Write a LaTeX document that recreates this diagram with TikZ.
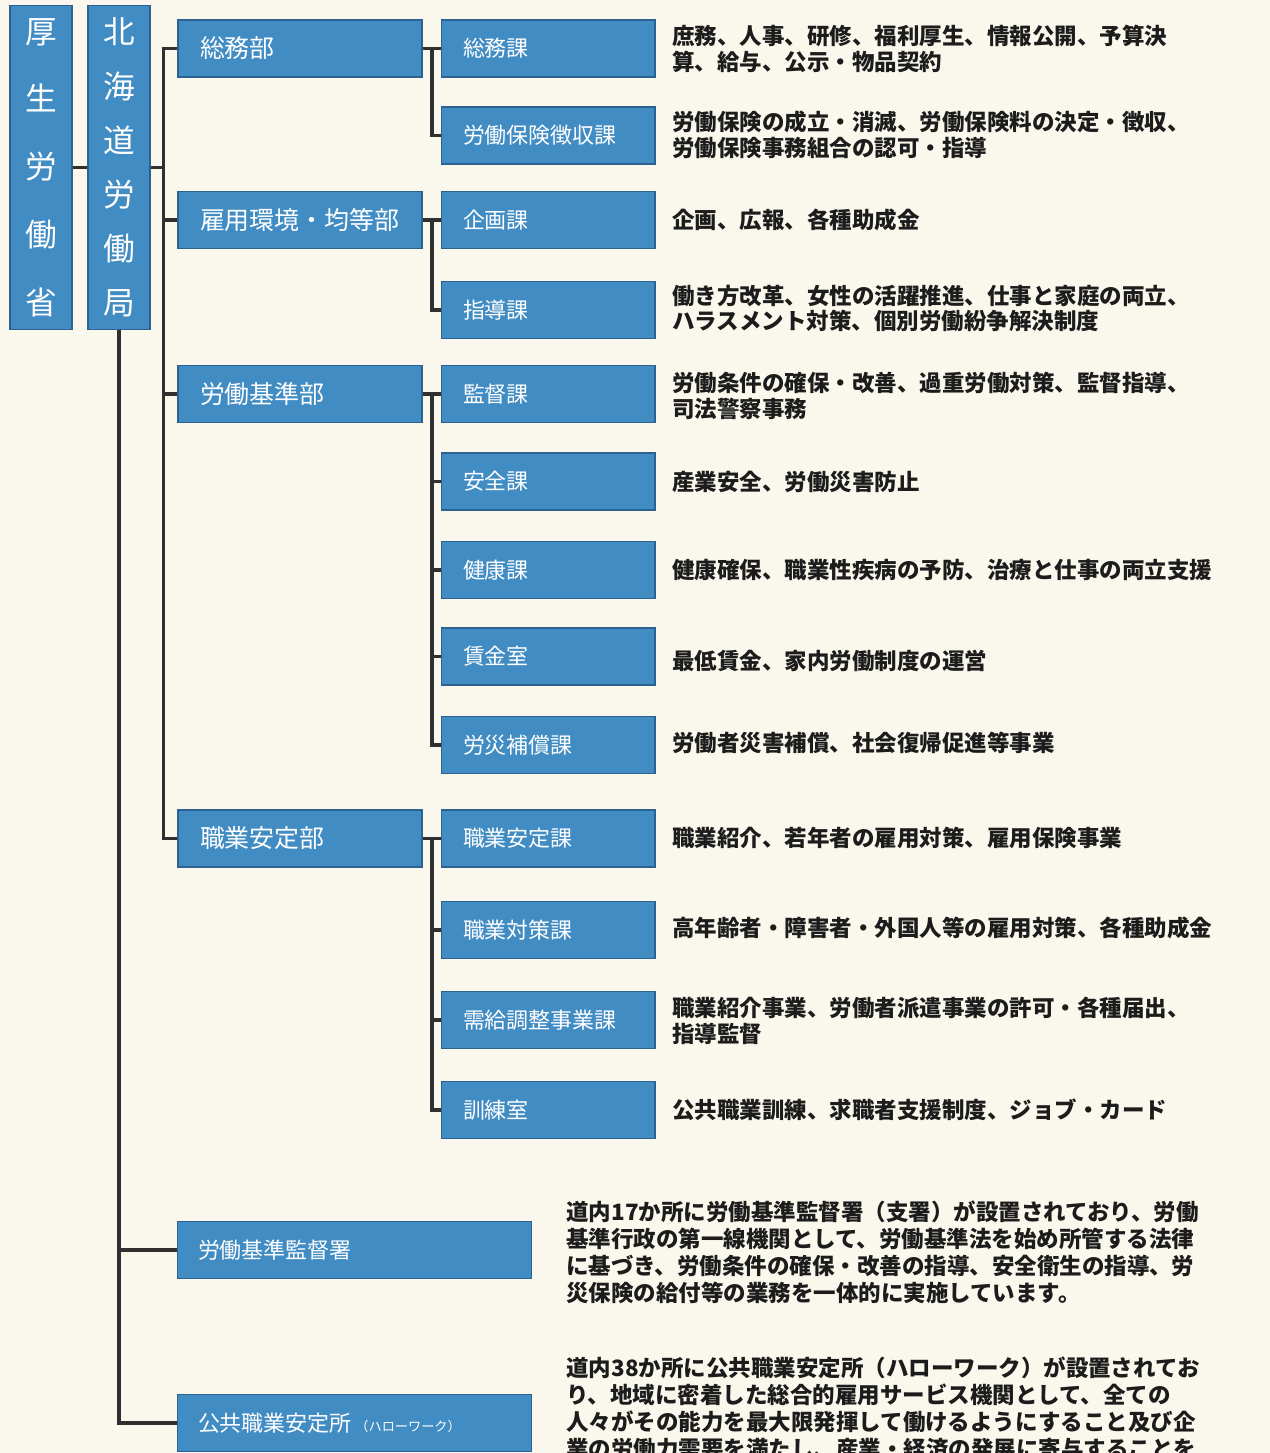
\documentclass[tikz,border=0pt]{standalone}
\usepackage{fontspec}
\newfontfamily\jp{Noto Sans CJK JP}
\definecolor{paper}{RGB}{250,248,236}
\definecolor{boxblue}{RGB}{66,140,196}
\definecolor{boxedge}{RGB}{44,98,146}
\definecolor{linec}{RGB}{48,48,48}
\definecolor{ink}{RGB}{28,28,28}
\begin{document}
\begin{tikzpicture}[x=0.02cm,y=-0.02cm,
  boxbase/.style={rectangle, fill=boxblue, draw=boxedge, line width=0.6pt,
    text=white, minimum height=1.14cm, inner ysep=0pt},
  deptbox/.style={boxbase, text width=4.0cm, inner xsep=0.44cm, align=left,
    font=\jp\fontsize{14.2}{16}\selectfont},
  secbox/.style={boxbase, text width=3.4cm, inner xsep=0.44cm, align=left,
    font=\jp\fontsize{12.5}{14}\selectfont},
  officebox/.style={boxbase, text width=6.26cm, inner xsep=0.42cm, align=left,
    font=\jp\fontsize{12.5}{14}\selectfont},
  vbox/.style={boxbase, minimum width=1.24cm, minimum height=6.5cm,
    inner sep=0pt, align=center},
  desc/.style={anchor=west, inner sep=0pt, align=left, text=ink,
    font=\jp\bfseries\fontsize{12.8}{14.7}\selectfont},
  para/.style={anchor=west, inner sep=0pt, align=left, text=ink,
    font=\jp\bfseries\fontsize{12.8}{15.3}\selectfont},
  link/.style={draw=linec, line width=2pt}]

\useasboundingbox (0,0) rectangle (1270,1453);
\clip (0,0) rectangle (1270,1453);
\fill[paper] (0,0) rectangle (1270,1453);

% ministry and regional bureau
\node[vbox, font=\jp\fontsize{18}{38.6}\selectfont] (mhlw) at (41,167.5)
  {厚\\生\\労\\働\\省};
\node[vbox, font=\jp\fontsize{18}{30.8}\selectfont] (bureau) at (119,167.5)
  {北\\海\\道\\労\\働\\局};

% departments
\node[deptbox] (dSomu)    at (300,48.5)  {総務部};
\node[deptbox] (dKoyo)    at (300,220)   {雇用環境・均等部};
\node[deptbox] (dKijun)   at (300,394)   {労働基準部};
\node[deptbox] (dShokuan) at (300,838.5) {職業安定部};

% sections
\node[secbox] (sSomu)      at (548,48.5)   {総務課};
\node[secbox] (sHoken)     at (548,135.5)  {労働保険徴収課};
\node[secbox] (sKikaku)    at (548,220)    {企画課};
\node[secbox] (sShido)     at (548,310)    {指導課};
\node[secbox] (sKantoku)   at (548,394)    {監督課};
\node[secbox] (sAnzen)     at (548,481.5)  {安全課};
\node[secbox] (sKenko)     at (548,570)    {健康課};
\node[secbox] (sChingin)   at (548,656.5)  {賃金室};
\node[secbox] (sRosai)     at (548,745)    {労災補償課};
\node[secbox] (sShokuanka) at (548,838.5)  {職業安定課};
\node[secbox] (sTaisaku)   at (548,930)    {職業対策課};
\node[secbox] (sJukyu)     at (548,1020)   {需給調整事業課};
\node[secbox] (sKunren)    at (548,1110)   {訓練室};

% field offices
\node[officebox] (oKantokusho) at (354.5,1250) {労働基準監督署};
\node[officebox] (oHello)      at (354.5,1423)
  {公共職業安定所\,{\fontsize{7.5}{9}\selectfont （ハローワーク）}};

% duties of each section
\node[desc] (t1)  at (672,48.5)  {庶務、人事、研修、福利厚生、情報公開、予算決\\算、給与、公示・物品契約};
\node[desc] (t2)  at (672,135)   {労働保険の成立・消滅、労働保険料の決定・徴収、\\労働保険事務組合の認可・指導};
\node[desc] (t3)  at (672,220)   {企画、広報、各種助成金};
\node[desc] (t4)  at (672,308.5) {働き方改革、女性の活躍推進、仕事と家庭の両立、\\ハラスメント対策、個別労働紛争解決制度};
\node[desc] (t5)  at (672,395.5) {労働条件の確保・改善、過重労働対策、監督指導、\\司法警察事務};
\node[desc] (t6)  at (672,482)   {産業安全、労働災害防止};
\node[desc] (t7)  at (672,570)   {健康確保、職業性疾病の予防、治療と仕事の両立支援};
\node[desc] (t8)  at (672,661)   {最低賃金、家内労働制度の運営};
\node[desc] (t9)  at (672,743)   {労働者災害補償、社会復帰促進等事業};
\node[desc] (t10) at (672,838)   {職業紹介、若年者の雇用対策、雇用保険事業};
\node[desc] (t11) at (672,928)   {高年齢者・障害者・外国人等の雇用対策、各種助成金};
\node[desc] (t12) at (672,1020.5){職業紹介事業、労働者派遣事業の許可・各種届出、\\指導監督};
\node[desc] (t13) at (672,1110)  {公共職業訓練、求職者支援制度、ジョブ・カード};

% descriptions of the field offices
\node[para] (p1) at (566,1252.5)
  {道内17か所に労働基準監督署（支署）が設置されており、労働\\
   基準行政の第一線機関として、労働基準法を始め所管する法律\\
   に基づき、労働条件の確保・改善の指導、安全衛生の指導、労\\
   災保険の給付等の業務を一体的に実施しています。};
\node[para] (p2) at (566,1408.5)
  {道内38か所に公共職業安定所（ハローワーク）が設置されてお\\
   り、地域に密着した総合的雇用サービス機関として、全ての\\
   人々がその能力を最大限発揮して働けるようにすること及び企\\
   業の労働力需要を満たし、産業・経済の発展に寄与することを};

% connectors
\draw[link] (mhlw.east) -- (bureau.west);
\draw[link] (bureau.east) -- ++(13,0) coordinate (bj);
\foreach \d in {dSomu,dKoyo,dKijun,dShokuan}
  \draw[link] (bj) |- (\d.west);
\draw[link] (bureau.south) |- (oKantokusho.west);
\draw[link] (bureau.south) |- (oHello.west);

\draw[link] (dSomu.east) -- (sSomu.west);
\draw[link] (dSomu.east) -- ++(9.5,0) |- (sHoken.west);
\draw[link] (dKoyo.east) -- (sKikaku.west);
\draw[link] (dKoyo.east) -- ++(9.5,0) |- (sShido.west);
\draw[link] (dKijun.east) -- (sKantoku.west);
\foreach \c in {sAnzen,sKenko,sChingin,sRosai}
  \draw[link] (dKijun.east) -- ++(9.5,0) |- (\c.west);
\draw[link] (dShokuan.east) -- (sShokuanka.west);
\foreach \c in {sTaisaku,sJukyu,sKunren}
  \draw[link] (dShokuan.east) -- ++(9.5,0) |- (\c.west);
\end{tikzpicture}
\end{document}
